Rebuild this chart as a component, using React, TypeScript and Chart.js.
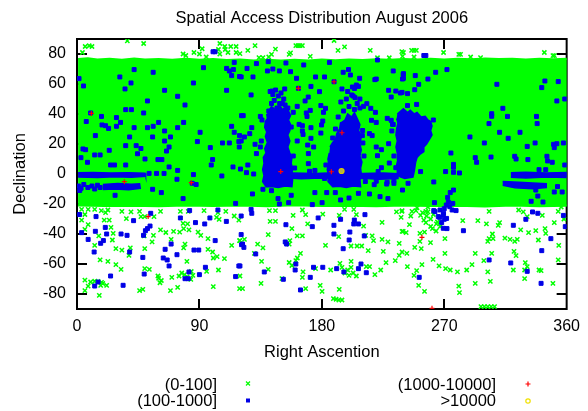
import React, { useEffect, useRef } from 'react';
import { Chart, registerables } from 'chart.js';

Chart.register(...registerables);

const titleText = 'Spatial Access Distribution August 2006';
const xTitle = 'Right Ascention';
const yTitle = 'Declination';
const xTicks = [0, 90, 180, 270, 360];
const yTicks = [-80, -60, -40, -20, 0, 20, 40, 60, 80];
const seriesLabels = ['(0-100]', '(100-1000]', '(1000-10000]', '>10000'];

// dense (0-100] coverage area: upper and lower edges [RA, Dec]
const bandTop = [[0.8,76.6],[8,77.1],[15,76.4],[24,76.9],[33,76.2],[42,77.0],[50,76.3],[60,76.7],[70,76.1],[80,76.9],[90,76.2],[100,76.6],[110,76.0],[120,76.4],[130,75.7],[140,76.2],[150,75.6],[160,76.1],[170,75.7],[180,76.3],[190,75.8],[200,76.4],[210,76.0],[220,76.5],[230,76.1],[240,76.7],[250,76.3],[260,76.8],[270,76.4],[280,76.9],[290,76.5],[300,77.0],[310,76.6],[320,76.8],[330,76.4],[340,76.9],[350,76.5],[361,76.8]];
const bandBottom = [[361,-21.2],[340,-21.5],[320,-21.0],[300,-21.6],[280,-21.1],[260,-21.4],[240,-21.0],[220,-21.5],[200,-21.1],[180,-21.4],[160,-20.9],[140,-21.5],[120,-21.0],[100,-21.4],[80,-21.0],[60,-21.5],[40,-21.1],[20,-21.4],[0.8,-21.0]];

// dense (100-1000] regions (outlines)
const blueClusterA = [[141,42],[143,45],[146,43],[149,46],[151,43],[154,45],[155.5,42],[157,39],[155.5,36],[157,33],[156.5,29],[155,26],[156.5,22],[155,18],[156.5,14],[158,11],[157.5,7],[158.5,4],[158,0],[158.5,-4],[158,-8.5],[153,-8],[148,-9],[143,-8.3],[139,-8.5],[136.5,-5],[137.5,-1],[136.5,3],[137.5,7],[137,11],[139,14],[138,17],[140,21],[138.5,25],[139.5,28],[138,31],[138.5,35],[140,37],[139.5,40]];
const blueClusterB = [[186,18],[188,21],[190,23],[191,27],[193,30],[194,34],[197,36],[199,40],[202,38],[204,41],[206,37],[208,33],[207,29],[209,25],[208,20],[209,16],[208,12],[209.5,8],[208.5,4],[209,0],[208,-4],[208.5,-8.5],[203,-8],[198,-9],[193,-8.2],[188,-8.5],[184.5,-5],[185,-1],[184,3],[185,7],[184.5,10],[185.5,14]];
const blueClusterC = [[235.5,40],[238,42],[240,43.5],[243,41],[245,42.5],[248,40],[250,41],[253,38],[256,38.5],[258,36],[260,35],[261,32],[260,29],[261,26],[259,23],[257,20],[255,18],[255,15],[252,13],[250,11],[249,8],[248.5,5],[248,2],[247,-2],[244,-2.5],[241,-3],[238,-2],[236,-1],[235.5,3],[235,6],[236,10],[235.5,14],[234.5,18],[235.5,22],[234.5,26],[235,30],[236,34],[235,37]];
const blueStripe1 = [[0.8,0.8],[12,1],[25,0.6],[38,0.9],[50,0.5],[50.5,-1.5],[40,-2.2],[28,-1.8],[15,-2.3],[0.8,-2]];
const blueStripe1b = [[19,-7],[30,-6.3],[40,-6.8],[46,-6.5],[46.5,-9.5],[38,-10.5],[28,-10],[19,-10.3]];
const blueStripe2 = [[158,0.6],[175,0.3],[190,0.8],[210,0.4],[225,0.7],[236,0.2],[236,-3],[222,-3.5],[210,-2.8],[195,-3.3],[180,-2.6],[165,-3.2],[158,-2.8]];
const blueStripe3 = [[319,0.8],[330,1.2],[345,0.7],[360,1],[360,-2.3],[345,-2],[330,-2.6],[319,-2.2]];
const blueStripe3b = [[313,-5],[325,-5.5],[335,-6],[345,-6.5],[345,-9],[335,-9.8],[322,-9.2],[313,-7.5]];

// (0-100] points outside the dense area
const greenNorth = [[4,81],[6,85],[9,85.5],[11,85],[37,88.7],[49,87],[78,80],[80,79],[86,81],[90,80],[92,83.5],[95,78],[104,83],[105,87],[105,80],[108.6,85],[109,83],[111,81],[113,85],[117,85],[117,81],[119.8,80.2],[125.6,82.4],[130.9,85.6],[133.8,77.6],[136.7,77.6],[141,78],[143,79.8],[145.9,83.3],[156,79.8],[157,80.7],[160.9,85.6],[162.5,85.6],[164,85.6],[165.7,85.6],[171.5,78.4],[189,89],[191.9,82.4],[196.7,84.7],[215.6,82.4],[220.9,77.5],[229.6,77.5],[238.8,81.6],[239.3,78.4],[240,81],[246,82.4],[247.8,82.4],[249.5,82.4],[247.8,78],[269.5,81],[280.7,79.8],[282,79.8],[289.4,78],[296.7,77.6],[343.6,81],[349.9,78.9],[351,78.9]];
const greenSouth = [[3.4,-23.6],[8.2,-23.6],[13,-23.6],[17.9,-24.4],[22.7,-24],[33,-24.9],[39.7,-25.3],[46,-24.9],[5.8,-27],[3.4,-30.7],[8.2,-33.8],[5.8,-36.9],[21,-25.8],[20,-30.7],[23.7,-30.7],[25,-35.6],[36.3,-29.8],[47,-28.4],[49.8,-28.4],[56.6,-28.4],[61.4,-37.3],[65.3,-39],[71,-38.2],[75.5,-38.7],[61.4,-24.9],[76,-24.9],[81.8,-24.9],[93.4,-24.4],[103.6,-25.8],[109.4,-24.9],[115.6,-28],[119,-30.7],[78,-32.9],[81.3,-33.3],[78.4,-36.4],[82.3,-37.3],[89,-38.7],[91,-40.9],[96.3,-43.1],[102.6,-28.9],[104.5,-30.2],[119.5,-44.4],[13,-47.6],[17,-57.3],[22.7,-58.2],[28.6,-60.4],[32.4,-63.6],[16,-41.3],[26.6,-39.6],[26,-44],[28.6,-49.8],[33,-50.7],[38.2,-54.2],[39.2,-49.3],[49.4,-41.3],[56.2,-40.9],[55.2,-45.3],[49.8,-49.8],[49.8,-63.1],[53.2,-63.6],[69.2,-43.6],[78.4,-49.3],[79.4,-46.7],[80.8,-58.2],[96.3,-50.2],[99.7,-52],[100.2,-56],[103,-55.1],[104,-64],[108.4,-56.4],[113.7,-47.6],[95.3,-64.9],[59.5,-68],[62,-71],[69.7,-68.9],[75,-68],[79,-67.1],[83.7,-70.2],[85.2,-67.6],[74,-75.6],[68.7,-77.8],[100.2,-75.1],[5.8,-70.7],[8.2,-74.7],[5.8,-77.8],[15.5,-71.6],[17.4,-74.2],[16.4,-80.9],[21.8,-74.2],[46,-77.8],[48.4,-76.9],[119.5,-76.4],[61,-72.5],[60,-69.5],[77,-66],[81,-68.5],[84,-65],[10,-72],[13,-71.5],[18,-72.2],[19,-73],
[141.5,-24.4],[145.9,-24.4],[165.7,-24],[196.7,-23.6],[203.5,-23.6],[238.8,-24.9],[234.9,-25.3],[158.9,-27.6],[168.1,-27.1],[180.7,-26.7],[192.8,-27.6],[205.4,-27.1],[142,-31.6],[145.9,-31.6],[169.6,-33.3],[158,-36.4],[210.7,-34.7],[224.3,-32.2],[238.3,-28.9],[239.8,-38.2],[140.6,-40.4],[161.9,-41.3],[165.7,-41.3],[192.4,-41.8],[212.2,-40.9],[217,-41.3],[224.3,-43.6],[218,-44.4],[119.8,-44.4],[123.1,-43.6],[132.8,-46.7],[136.7,-49.3],[130.4,-52.9],[156,-46.7],[156.5,-44.4],[164.3,-52.9],[182.7,-47.6],[201.5,-48],[205.9,-48],[209.3,-48],[214.1,-51.1],[225.2,-51.6],[228.6,-45.3],[236.9,-46.2],[236.9,-54.2],[135.7,-58.2],[140.6,-63.6],[160.9,-57.8],[166.2,-65.3],[175.4,-63.1],[186.5,-64],[193.3,-59.6],[194.8,-62.2],[201.5,-58.2],[201.5,-62.2],[205.4,-68],[212.7,-61.8],[215.1,-61.8],[219,-67.1],[223.3,-64],[227.2,-59.1],[234,-57.8],[119.8,-68],[135.3,-72.9],[121.7,-76.4],[150.7,-69.8],[165.7,-68.9],[168.1,-76.4],[178.8,-74.2],[180.2,-78.2],[192.8,-76.9],[188.5,-83.1],[190.5,-83.5],[192.5,-84],[194.8,-84],[200,-67.6],[156,-59],[158,-61],[162,-56],[197,-66],[199,-64],[203,-66],
[239,-24.4],[246.3,-24.9],[249.2,-24.4],[254,-25.8],[256.5,-24.9],[258,-25.3],[245.4,-28],[252.6,-27.6],[255,-30.7],[256.5,-32.4],[244.4,-33.8],[264.2,-33.3],[261.3,-36.4],[239,-38.2],[242,-39.1],[252.1,-39.6],[255.5,-38.7],[252.1,-44.9],[248.3,-48.9],[253.1,-49.8],[259.9,-45.8],[239,-52],[242.5,-52.9],[270.5,-43.1],[270.5,-52.9],[283.6,-31.1],[294.7,-31.1],[301,-33.3],[303,-24.9],[310.7,-32.4],[309.7,-34.2],[305.4,-40],[303,-43.1],[305.9,-43.1],[302,-44.9],[314.6,-42.7],[318.4,-43.6],[321.8,-44.9],[323.7,-43.6],[324.7,-24],[328.1,-25.3],[331,-28.4],[326.2,-37.3],[332,-39.1],[342.1,-27.6],[337.3,-37.8],[344.1,-36.4],[344.6,-39.6],[339.2,-44],[350.9,-32.4],[353.8,-24.9],[354.2,-47.6],[341.2,-64.4],[353.8,-57.3],[349.9,-72.9],[261.8,-56.9],[242.9,-61.8],[249.7,-64.4],[247.8,-67.6],[253.6,-60.4],[266.2,-61.3],[271,-63.1],[274.4,-64],[279.7,-65.3],[286.5,-64],[290.4,-60.4],[292.8,-52.9],[299.1,-57.8],[304.9,-52.9],[321.3,-51.6],[322.8,-54.4],[302,-65.3],[303.9,-71.6],[292.8,-72.9],[280.7,-74.7],[281.2,-79.1],[251.2,-74.2],[255.5,-78.2],[320.8,-64],[329.6,-59.1],[331,-61.8],[329.1,-64],[339.7,-64],[329.1,-69.8],[297,-88.4],[299.5,-88.4],[302,-88.4],[304.5,-88.4],[307,-88.4],[257,-28],[260,-30],[262,-27],[265,-32],[267,-35],[264,-38],[258,-22],[250,-22.5],[260,-35],[356,-22],[358,-30]];

// (100-1000] points
const blueNorth = [[100,81.5],[101.5,81.5],[255,79],[256.5,79]];
const blueBand = [[1.5,63.6],[4.8,58.7],[42,69.6],[56,67.8],[31.5,64.7],[39.7,60.7],[35.3,56.7],[64.4,55.8],[51.8,48.7],[74,51.8],[85.6,60.7],[93,70.9],[110,70.4],[112,68.7],[115,69.6],[115.6,74.4],[113.7,65.6],[119.5,65],[110,55.8],[79.4,46],[10,40.7],[35.8,42.9],[40,42.9],[49,40.7],[18,38.4],[29,37.6],[32,34.4],[18.4,32.7],[21,32.2],[23.2,30.4],[29,31.8],[6.8,35],[42,30.9],[51.8,30.9],[56,31.8],[60,34.4],[64.4,28.7],[68.7,24.7],[74,30.9],[78.4,34.4],[90.5,27.8],[88.5,21.6],[98,17.6],[107,20.7],[112,20.7],[113.7,31.8],[115.6,27.8],[119,21.6],[121,38.9],[119.5,25.6],[13.5,25.6],[38.7,24.7],[55.6,24.7],[64.4,22],[65.8,15.3],[67.7,18],[35.8,18.9],[43.5,18.9],[47,17],[44.5,13.5],[23.7,15.8],[13,12.7],[17,12.7],[4.4,16.7],[6.3,16.2],[2.9,10.9],[7.7,7.8],[24.7,6],[27.6,6],[35.8,6],[50,10],[59.5,9.6],[62.4,9.6],[67.7,4.7],[74,2.4],[99.7,9.6],[98.7,6],[114.7,4.7],
[53,0.4],[58.5,0.4],[64,0.4],[73.5,-3.5],[85.6,-0.4],[84.7,-6.2],[87.6,-7],[106.5,-1.3],[55.6,-10.2],[62,-12.4],[28,-14.2],[78,-16.4],[116.6,-19.6],[1,-8],[3,-9.5],[2,-11],[5,-7],[8,-9],[11,-8],[13,-10],[15,-7.5],[17,-9],
[120.7,64.7],[125,70.4],[131.9,73.6],[129.4,64.7],[140,68.7],[144,70],[148.8,68.7],[140.6,74.9],[153.6,74],[157,68.2],[166.7,72.7],[161.4,63.8],[175.4,64.7],[182,64.7],[185.6,74.4],[195.7,67.8],[199.6,69.6],[201,66],[207.8,63.8],[220,63.3],[220.9,76],[232.5,68.7],[239.8,66.4],[239.3,63.3],[128,52.7],[143.5,55.3],[152.7,56.7],[162.8,57.1],[189,61.5],[172,58.4],[178.3,54.9],[194.8,56.7],[202.5,58],[205.4,59.3],[206.9,58.4],[202,52.7],[204.4,50.9],[219,62.9],[229.1,55.8],[234.4,55.3],[237.8,54],[231,51.3],[122.2,38.9],[134.8,38.4],[128.5,30.9],[123.1,24.7],[120.7,22],[127,26.9],[119.3,18],[130.9,19.8],[134.8,18],[131.9,13.6],[125.6,6],[120.2,3.3],[161.9,45.1],[167.7,48.7],[170,51.3],[159,41.1],[168.6,40.7],[171.5,42.4],[163.3,33.1],[165.7,32.2],[157.5,31.3],[169.1,38.4],[169.6,19.3],[170.1,13.6],[161.9,22],[165.7,28.7],[166.2,26.4],[170.1,6.9],[174,18],[174.9,2.4],[179.8,32.7],[180.7,35.3],[172,30.9],[172,23.8],[181.2,41.1],[179.3,45.6],[182.7,43.8],[179.3,27.3],[216.5,35.8],[216,43.8],[219.4,41.1],[210.7,45.1],[213.1,46.9],[209.8,25.6],[215,26.9],[217,25.6],[220,34.4],[210.2,20.7],[220,18],[223.8,16.2],[229.1,20.2],[220.9,12.2],[223.8,4.2],[221.4,1.6],[228.1,37.1],[231,35.8],[232,33.1],[231.5,28.7],[229.6,7.3],[234.4,4.2],
[142,55],[144,53],[146,56],[148,52],[150,54],[152,50],[145,49],[149,47],[153,46],[143,47],[147,44],[151,47],[155,44],[141,42],[136,36],[135.5,22],[159,12],[160,4],[194,48],[198,50],[203,52],[206,47],[200,45],[196,42],[204,43],[208,44],[192,38],[199,55],[204,57],[208,50],[195,33],[190,30],[188,24],[210,29],[211,12],[183,6],[182,-3],[232.5,33],[233,12],[262,36],[251,15],
[129,-13.3],[136.7,-10.2],[143,-11.1],[147.8,-16.4],[148.8,-20],[155.6,-19.1],[157.5,-14.2],[173,-20.4],[174.9,-12.4],[180.2,-19.1],[183.6,-12.4],[189.9,-12.4],[193.8,-17.3],[200,-16],[206.9,-12.9],[215,-13.3],[218.5,-7.1],[222.8,-15.1],[227.7,-6.7],[228.6,-16.4],[233,-6.2],[239.3,-10.7],[124.6,0.9],[129.9,0],[171,1.8],[212,-5],[220,-4.8],[228,-5.5],[233,-4.5],
[240,66.9],[240,63.8],[248.7,65.6],[258,63.3],[263.7,67.8],[272,69.6],[251.2,59.8],[248.3,56.2],[243,53.6],[239,54.4],[308.7,59.8],[344,62],[353.8,61.6],[341.7,57.6],[352.8,48.7],[358.6,50],[243,45.6],[249.7,46.4],[313.1,43.8],[304.9,40.2],[304.9,38.5],[316.5,38.4],[337.8,38.4],[338.3,33.6],[302.9,33.6],[310.7,27.8],[317,23.8],[325.7,27.8],[288.9,24.7],[299.5,20.7],[331,18.4],[336.8,20.7],[350.4,19.8],[352.8,20.2],[357.6,20.7],[350.9,17.6],[274.9,14],[276.8,6.4],[276.8,4.5],[292.8,10.9],[293.8,7.8],[304.4,11.3],[321.8,11.8],[322.8,10],[331.5,9.6],[345.5,11.8],[346,8.7],[349.4,7.8],[358.6,6],[252.6,1.6],[271,1.6],[276.8,1.1],[281.2,0.7],[339.7,2.9],[344.6,2.9],
[240,-0.4],[262.3,-5.3],[243.4,-6.2],[276.8,-10.7],[274.4,-12.4],[272.5,-15.6],[273,-18.7],[276.3,-19.6],[262.8,-19.1],[338.8,-14.7],[333.9,-18.2],[342.6,-18.7],[350.9,-12],[356.7,-12],[353.3,-8.4],[337.3,-10.7]];
const blueSouth = [[1.9,-27],[14,-28.4],[41.6,-31.1],[54.2,-26.2],[53.7,-34.7],[51.8,-36.4],[50.3,-37.8],[20.8,-35.6],[13.5,-38.2],[21.8,-40],[32.4,-40],[36.8,-40.9],[48.9,-40.9],[8.2,-43.6],[19.4,-44.4],[17.4,-46.2],[3.4,-39.1],[12.6,-52],[38.7,-52],[48.4,-55.6],[63.4,-56],[66.3,-57.3],[64.8,-50.2],[69.2,-46.7],[73.5,-53.8],[67.7,-61.3],[49.4,-66.7],[24.7,-68],[79.4,-69.8],[81.8,-69.8],[82.3,-65.3],[86,-50.7],[89.5,-50.7],[90,-67.1],[94.4,-62.2],[101.6,-44.4],[119,-61.3],[116.6,-68.4],[97.7,-29.3],[103.6,-24],[109.8,-31.6],[87.1,-32.4],[76,-29.3],[82.8,-24.4],[93.9,-33.3],[13,-74.7],[15.5,-72],[33.9,-74.2],[121,-47.1],
[128,-23.6],[128.5,-26.2],[120.7,-28],[153.6,-33.8],[173,-35.1],[177.3,-29.3],[188.9,-34.2],[193.8,-30.2],[203.9,-30.7],[203.5,-33.3],[206.9,-33.3],[211.7,-27.1],[200.6,-38.7],[188.9,-40],[120.7,-40.4],[121.7,-46.7],[122.7,-48.9],[131.4,-53.3],[153.1,-45.3],[154.1,-46.7],[200.1,-44],[211.2,-41.3],[195.7,-49.8],[208.8,-60],[206.9,-63.1],[212.7,-65.8],[160.9,-60],[160.4,-64],[137.7,-65.3],[119.8,-61.3],[151.7,-70.2],[173.9,-62.2],[180.7,-62.2],[190.9,-63.1],[196.2,-65.3],[171.5,-68.9],[164.3,-77.3],
[262.3,-24.4],[266.6,-28.9],[270,-30.2],[268.1,-32.4],[269.5,-26.2],[270,-23.1],[275.8,-24],[278.7,-24.4],[272,-36.4],[284.1,-37.8],[334.9,-25.3],[338.8,-26.2],[330,-30.2],[320.8,-34.2],[357.6,-27.6],[359,-35.1],[348.4,-43.1],[341.7,-51.1],[303,-57.3],[318.9,-59.3],[331,-64.9],[251.6,-68.9],[341.2,-72.9],[265.6,-28.4],[269.3,-27.3],[271.7,-29.6],[266.9,-24],[274.1,-21.8],[271.5,-20.7],[269.3,-36.2],[263.2,-25.1]];

// (1000-10000] and >10000 points
const redPts = [[10.6,40.4],[34.8,-5.1],[84,-5.8],[52.3,-28.4],[149.8,1.6],[162.8,57.1],[189,61.5],[187,1.5],[194.8,27.5],[253.6,-42.2],[261,-89.5]];
const yellowPts = [[194.5,2]];

const GREEN = '#00ff00';
const BLUE = '#0000e6';
const RED = '#ff0000';
const YELLOW = '#f0e000';
const FONT = '"Liberation Sans", Arial, sans-serif';

const toXY = (pts: number[][]) => pts.map(([x, y]) => ({ x, y }));

export default function App() {
  const ref = useRef<HTMLCanvasElement>(null);

  useEffect(() => {
    const canvas = ref.current;
    if (!canvas) return;

    const poly = (pts: number[][], color: string, order: number, width = 1.5) => ({
      label: '',
      data: toXY(pts),
      showLine: true,
      fill: 'shape',
      backgroundColor: color,
      borderColor: color,
      borderWidth: width,
      pointRadius: 0,
      tension: 0,
      order,
    });
    const pts = (data: number[][], style: string, color: string, fillColor: string, radius: number, bw: number, order: number, label: string) => ({
      label,
      data: toXY(data),
      showLine: false,
      pointStyle: style,
      pointRadius: radius,
      pointBorderWidth: bw,
      pointBorderColor: color,
      pointBackgroundColor: fillColor,
      borderColor: color,
      backgroundColor: fillColor,
      order,
    });

    const decor = {
      id: 'decor',
      beforeDatasetsDraw(chart: any) {
        const { ctx, chartArea: a, scales } = chart;
        const x = scales.x, y = scales.y;
        ctx.save();
        ctx.strokeStyle = '#000';
        ctx.lineWidth = 2;
        ctx.strokeRect(a.left, a.top, a.right - a.left, a.bottom - a.top);
        ctx.beginPath();
        for (const v of xTicks) {
          if (v === 0 || v === 360) continue;
          const px = Math.round(x.getPixelForValue(v));
          ctx.moveTo(px, a.top); ctx.lineTo(px, a.top + 10);
          ctx.moveTo(px, a.bottom); ctx.lineTo(px, a.bottom - 10);
        }
        for (const v of yTicks) {
          const py = Math.round(y.getPixelForValue(v));
          ctx.moveTo(a.left, py); ctx.lineTo(a.left + 10, py);
          ctx.moveTo(a.right, py); ctx.lineTo(a.right - 10, py);
        }
        ctx.stroke();
        ctx.restore();
      },
      afterDraw(chart: any) {
        const { ctx, chartArea: a } = chart;
        ctx.save();
        ctx.fillStyle = '#000';
        ctx.font = `16.5px ${FONT}`;
        ctx.textBaseline = 'alphabetic';
        ctx.textAlign = 'center';
        const cx = (a.left + a.right) / 2;
        ctx.fillText(titleText, cx, 23);
        ctx.fillText(xTitle, cx, 357);
        ctx.save();
        ctx.translate(25, (a.top + a.bottom) / 2);
        ctx.rotate(-Math.PI / 2);
        ctx.fillText(yTitle, 0, 0);
        ctx.restore();

        // legend
        ctx.textAlign = 'right';
        const rows = [
          { label: seriesLabels[0], tx: 217, ty: 389.5, mx: 248, my: 383.5, kind: 'x', color: GREEN },
          { label: seriesLabels[1], tx: 217, ty: 405.5, mx: 248, my: 400.5, kind: 'sq', color: BLUE },
          { label: seriesLabels[2], tx: 496, ty: 389.5, mx: 528, my: 384, kind: '+', color: RED },
          { label: seriesLabels[3], tx: 496, ty: 405.5, mx: 528, my: 401, kind: 'o', color: YELLOW },
        ];
        for (const r of rows) {
          ctx.fillStyle = '#000';
          ctx.fillText(r.label, r.tx, r.ty);
          ctx.strokeStyle = r.color;
          ctx.fillStyle = r.color;
          ctx.lineWidth = 1.2;
          ctx.beginPath();
          if (r.kind === 'x') {
            ctx.moveTo(r.mx - 2, r.my - 2); ctx.lineTo(r.mx + 2, r.my + 2);
            ctx.moveTo(r.mx + 2, r.my - 2); ctx.lineTo(r.mx - 2, r.my + 2);
            ctx.stroke();
          } else if (r.kind === 'sq') {
            ctx.fillRect(r.mx - 2, r.my - 2, 4, 4);
          } else if (r.kind === '+') {
            ctx.moveTo(r.mx - 2.5, r.my); ctx.lineTo(r.mx + 2.5, r.my);
            ctx.moveTo(r.mx, r.my - 2.5); ctx.lineTo(r.mx, r.my + 2.5);
            ctx.stroke();
          } else {
            ctx.arc(r.mx, r.my, 2.2, 0, Math.PI * 2);
            ctx.stroke();
          }
        }
        ctx.restore();
      },
    };

    const chart = new Chart(canvas, {
      type: 'scatter',
      data: {
        datasets: [
          pts(yellowPts, 'circle', '#d8c800', 'rgba(255,255,0,0.7)', 2.5, 1.2, 1, seriesLabels[3]),
          pts(redPts, 'cross', RED, RED, 2.5, 1.2, 2, seriesLabels[2]),
          pts(blueNorth, 'rect', BLUE, BLUE, 2.8, 1, 3, seriesLabels[1]),
          pts(blueBand, 'rect', BLUE, BLUE, 2.8, 1, 3, seriesLabels[1]),
          pts(blueSouth, 'rect', BLUE, BLUE, 2.8, 1, 3, seriesLabels[1]),
          poly(blueClusterA, BLUE, 4),
          poly(blueClusterB, BLUE, 4),
          poly(blueClusterC, BLUE, 4),
          poly(blueStripe1, BLUE, 4),
          poly(blueStripe1b, BLUE, 4),
          poly(blueStripe2, BLUE, 4),
          poly(blueStripe3, BLUE, 4),
          poly(blueStripe3b, BLUE, 4),
          pts(greenNorth, 'crossRot', GREEN, GREEN, 3, 1.5, 5, seriesLabels[0]),
          pts(greenSouth, 'crossRot', GREEN, GREEN, 3, 1.5, 5, seriesLabels[0]),
          poly([...bandTop, ...bandBottom], GREEN, 6, 2),
        ] as any,
      },
      options: {
        responsive: false,
        animation: false,
        events: [],
        layout: { padding: { top: 39, right: 15, bottom: 0, left: 0 } },
        plugins: { legend: { display: false }, tooltip: { enabled: false }, title: { display: false } },
        scales: {
          x: {
            type: 'linear',
            min: 0,
            max: 360,
            grid: { display: false, drawTicks: false },
            border: { display: false },
            afterBuildTicks: (s: any) => { s.ticks = xTicks.map((v) => ({ value: v })); },
            afterFit: (s: any) => { s.height = 102; },
            ticks: { autoSkip: false, maxRotation: 0, padding: 8, color: '#000', font: { family: FONT, size: 16 } },
          },
          y: {
            type: 'linear',
            min: -90,
            max: 90,
            grid: { display: false, drawTicks: false },
            border: { display: false },
            afterBuildTicks: (s: any) => { s.ticks = yTicks.map((v) => ({ value: v })); },
            afterFit: (s: any) => { s.width = 77; },
            ticks: { autoSkip: false, padding: 11, color: '#000', font: { family: FONT, size: 16 } },
          },
        },
      } as any,
      plugins: [decor],
    });

    return () => chart.destroy();
  }, []);

  return (
    <div style={{ position: 'absolute', left: 0, top: 0, width: 588, height: 411, background: '#fff' }}>
      <canvas ref={ref} width={588} height={411} style={{ display: 'block' }} />
    </div>
  );
}
